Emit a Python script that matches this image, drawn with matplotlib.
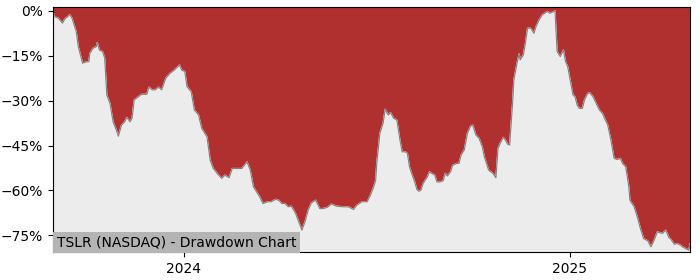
import matplotlib
matplotlib.use('Agg')
import matplotlib.pyplot as plt
import matplotlib.dates as mdates
import matplotlib.ticker as mticker
import pandas as pd

title = 'TSLR (NASDAQ) - Drawdown Chart'

dates = [
    '2023-08-30', '2023-08-31', '2023-09-04', '2023-09-08', '2023-09-10', '2023-09-13',
    '2023-09-15', '2023-09-17', '2023-09-19', '2023-09-21', '2023-09-23', '2023-09-25',
    '2023-09-27', '2023-10-01', '2023-10-03', '2023-10-04', '2023-10-07', '2023-10-10',
    '2023-10-11', '2023-10-13', '2023-10-16', '2023-10-18', '2023-10-20', '2023-10-23',
    '2023-10-26', '2023-10-29', '2023-10-31', '2023-11-03', '2023-11-06', '2023-11-08',
    '2023-11-11', '2023-11-13', '2023-11-15', '2023-11-19', '2023-11-22', '2023-11-27',
    '2023-11-29', '2023-12-02', '2023-12-05', '2023-12-08', '2023-12-11', '2023-12-12',
    '2023-12-15', '2023-12-19', '2023-12-23', '2023-12-28', '2023-12-30', '2024-01-02',
    '2024-01-04', '2024-01-08', '2024-01-11', '2024-01-15', '2024-01-18', '2024-01-23',
    '2024-01-26', '2024-01-29', '2024-02-03', '2024-02-06', '2024-02-09', '2024-02-13',
    '2024-02-16', '2024-02-20', '2024-02-25', '2024-03-01', '2024-03-04', '2024-03-07',
    '2024-03-10', '2024-03-13', '2024-03-16', '2024-03-21', '2024-03-24', '2024-03-28',
    '2024-03-31', '2024-04-03', '2024-04-06', '2024-04-09', '2024-04-12', '2024-04-16',
    '2024-04-19', '2024-04-22', '2024-04-25', '2024-04-28', '2024-05-01', '2024-05-05',
    '2024-05-09', '2024-05-12', '2024-05-16', '2024-05-20', '2024-05-25', '2024-05-31',
    '2024-06-05', '2024-06-10', '2024-06-13', '2024-06-18', '2024-06-23', '2024-06-26',
    '2024-06-29', '2024-07-01', '2024-07-02', '2024-07-04', '2024-07-05', '2024-07-08',
    '2024-07-10', '2024-07-12', '2024-07-13', '2024-07-15', '2024-07-18', '2024-07-21',
    '2024-07-24', '2024-07-26', '2024-07-29', '2024-07-31', '2024-08-02', '2024-08-04',
    '2024-08-07', '2024-08-09', '2024-08-11', '2024-08-13', '2024-08-15', '2024-08-19',
    '2024-08-21', '2024-08-23', '2024-08-26', '2024-08-28', '2024-08-31', '2024-09-03',
    '2024-09-05', '2024-09-07', '2024-09-10', '2024-09-12', '2024-09-16', '2024-09-18',
    '2024-09-20', '2024-09-23', '2024-09-26', '2024-09-29', '2024-10-01', '2024-10-04',
    '2024-10-07', '2024-10-10', '2024-10-12', '2024-10-14', '2024-10-16', '2024-10-20',
    '2024-10-23', '2024-10-25', '2024-10-27', '2024-10-30', '2024-11-01', '2024-11-03',
    '2024-11-05', '2024-11-08', '2024-11-09', '2024-11-12', '2024-11-14', '2024-11-15',
    '2024-11-18', '2024-11-20', '2024-11-22', '2024-11-25', '2024-11-28', '2024-11-30',
    '2024-12-03', '2024-12-06', '2024-12-09', '2024-12-11', '2024-12-13', '2024-12-17',
    '2024-12-18', '2024-12-20', '2024-12-23', '2024-12-26', '2024-12-28', '2024-12-30',
    '2025-01-02', '2025-01-04', '2025-01-06', '2025-01-08', '2025-01-10', '2025-01-13',
    '2025-01-15', '2025-01-18', '2025-01-20', '2025-01-23', '2025-01-26', '2025-01-29',
    '2025-02-01', '2025-02-03', '2025-02-06', '2025-02-09', '2025-02-12', '2025-02-15',
    '2025-02-18', '2025-02-20', '2025-02-23', '2025-02-26', '2025-02-27', '2025-03-03',
    '2025-03-06', '2025-03-09', '2025-03-12', '2025-03-16', '2025-03-19', '2025-03-22',
    '2025-03-25', '2025-03-28', '2025-03-30', '2025-04-02', '2025-04-05', '2025-04-07',
    '2025-04-10', '2025-04-13', '2025-04-16', '2025-04-18', '2025-04-21', '2025-04-24',
    '2025-04-25',
]

drawdown = [
    0.0, -1.9, -2.4, -4.1, -2.8, -1.9,
    -1.3, -2.4, -4.7, -6.9, -12.0, -14.7,
    -17.5, -17.0, -17.0, -14.2, -12.5, -12.0,
    -10.6, -13.1, -13.6, -15.8, -28.1, -30.9,
    -37.1, -39.8, -41.9, -38.2, -37.1, -35.6,
    -37.1, -35.9, -29.8, -28.7, -27.9, -27.9,
    -25.5, -26.4, -26.4, -25.5, -26.4, -25.5,
    -22.5, -20.9, -19.8, -18.1, -19.8, -20.3,
    -25.3, -27.0, -33.1, -34.8, -39.3, -42.1,
    -49.9, -52.7, -54.9, -56.0, -54.9, -55.8,
    -52.7, -52.7, -52.7, -50.5, -53.2, -58.8,
    -60.5, -62.2, -64.4, -63.8, -63.8, -63.0,
    -63.3, -64.4, -64.4, -65.5, -65.3, -67.7,
    -70.5, -73.3, -70.5, -66.6, -64.2, -63.3,
    -66.1, -66.1, -65.7, -64.6, -65.3, -65.5,
    -65.5, -66.4, -65.0, -63.8, -63.8, -61.6,
    -58.9, -56.6, -51.0, -44.3, -40.9, -37.6,
    -32.9, -34.3, -34.8, -34.0, -35.9, -36.5,
    -43.2, -47.1, -47.1, -47.6, -52.1, -54.3,
    -57.2, -59.7, -60.3, -59.9, -57.7, -55.5,
    -53.8, -54.3, -54.9, -57.2, -57.2, -56.8,
    -54.3, -55.2, -53.8, -51.6, -51.0, -51.0,
    -48.2, -46.5, -40.9, -38.5, -38.2, -41.5,
    -42.6, -45.4, -48.8, -51.0, -53.2, -54.3,
    -55.8, -46.0, -44.3, -42.3, -43.2, -44.5,
    -44.9, -29.8, -23.1, -17.5, -14.4, -16.4,
    -14.7, -10.8, -5.8, -5.8, -7.5, -5.3,
    -3.0, -1.3, -0.6, -0.2, -0.8, -0.2,
    0.0, -13.6, -15.3, -13.1, -17.0, -18.6,
    -24.2, -28.1, -28.7, -31.5, -32.6, -32.6,
    -29.8, -27.6, -27.4, -28.7, -30.9, -33.1,
    -34.3, -35.9, -38.2, -43.2, -49.3, -49.7,
    -49.3, -51.0, -52.1, -58.8, -63.3, -65.5,
    -68.9, -72.8, -76.1, -76.9, -78.9, -76.7,
    -73.9, -74.2, -74.4, -73.3, -75.8, -76.4,
    -78.0, -77.8, -78.3, -78.9, -79.5, -80.0,
    -77.8,
]

x = pd.to_datetime(dates)

fig = plt.figure(figsize=(7, 2.8), dpi=100)
ax = fig.add_axes([0.0757, 0.1, 0.91, 0.875])
ax.set_facecolor('#b03030')

ax.fill_between(x, drawdown, -100, color='#ececec', zorder=1)
ax.plot(x, drawdown, color='#808080', lw=0.8, zorder=2)

ax.set_xlim(x[0], x[-1])
ax.set_ylim(-80.6, 1.3)
ax.yaxis.set_major_locator(mticker.MultipleLocator(15))
ax.yaxis.set_major_formatter(mticker.FuncFormatter(lambda v, p: '%d%%' % v if v >= 0 else '\u2212%d%%' % -v))
ax.xaxis.set_major_locator(mdates.YearLocator())
ax.xaxis.set_major_formatter(mdates.DateFormatter('%Y'))

ax.text(0.006, 0.012, title, transform=ax.transAxes, fontsize=10, color='black',
        va='bottom', ha='left', zorder=5,
        bbox=dict(facecolor='#b4b4b4', edgecolor='none', pad=2.5))

fig.savefig('out.png', dpi=100)
